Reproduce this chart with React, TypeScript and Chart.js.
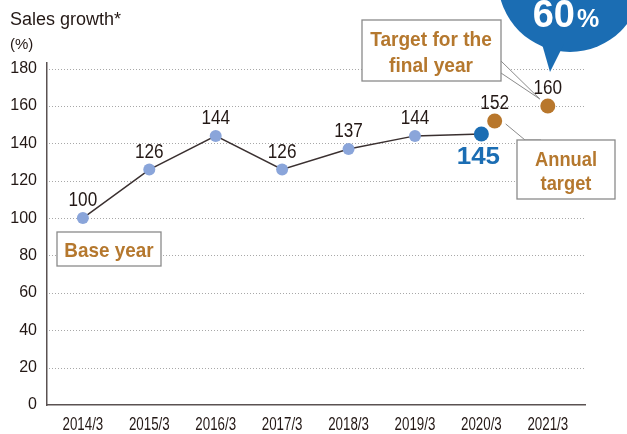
import React, { useEffect, useRef } from "react";
import { Chart, registerables } from "chart.js";

Chart.register(...registerables);

const categories = ["2014/3", "2015/3", "2016/3", "2017/3", "2018/3", "2019/3", "2020/3", "2021/3"];
const salesGrowth = [100, 126, 144, 126, 137, 144, 145];
const targetPositions = [6.2, 7];
const targetValues = [152, 160];
const yTicks = [0, 20, 40, 60, 80, 100, 120, 140, 160, 180];

const SANS = '"Liberation Sans", Arial, sans-serif';
const INK = "#231815";
const BROWN = "#b5782e";
const BLUE = "#1b6db3";
const LIGHT = "#8aa5da";
const BOX = "#8a8a8a";

function sText(
  ctx: CanvasRenderingContext2D,
  text: string,
  x: number,
  y: number,
  font: string,
  color: string,
  align: CanvasTextAlign,
  sx: number
) {
  ctx.save();
  ctx.translate(x, y);
  ctx.scale(sx, 1);
  ctx.font = font;
  ctx.fillStyle = color;
  ctx.textAlign = align;
  ctx.textBaseline = "alphabetic";
  ctx.fillText(text, 0, 0);
  ctx.restore();
}

function App() {
  const ref = useRef<HTMLCanvasElement | null>(null);

  useEffect(() => {
    if (!ref.current) return;

    const gridPlugin = {
      id: "dottedGrid",
      beforeDatasetsDraw(chart: any) {
        const { ctx, chartArea, scales } = chart;
        ctx.save();
        ctx.strokeStyle = "#a8a8a8";
        ctx.lineWidth = 1;
        ctx.setLineDash([1, 2]);
        for (const v of yTicks) {
          if (v === 0) continue;
          const y = Math.round(scales.y.getPixelForValue(v)) + 0.5;
          ctx.beginPath();
          ctx.moveTo(chartArea.left + 2, y);
          ctx.lineTo(chartArea.right, y);
          ctx.stroke();
        }
        ctx.restore();
      },
    };

    const box = (ctx: CanvasRenderingContext2D, x: number, y: number, w: number, h: number) => {
      ctx.fillStyle = "#fff";
      ctx.fillRect(x, y, w, h);
      ctx.strokeStyle = BOX;
      ctx.lineWidth = 1.3;
      ctx.strokeRect(x, y, w, h);
    };

    const wedge = (ctx: CanvasRenderingContext2D, pts: number[][]) => {
      ctx.beginPath();
      ctx.moveTo(pts[0][0], pts[0][1]);
      for (let i = 1; i < pts.length; i++) ctx.lineTo(pts[i][0], pts[i][1]);
      ctx.fillStyle = "#fff";
      ctx.fill();
      ctx.strokeStyle = BOX;
      ctx.lineWidth = 1;
      ctx.stroke();
    };

    const annotPlugin = {
      id: "annotations",
      afterDraw(chart: any) {
        const { ctx, scales } = chart;
        ctx.save();
        // title
        sText(ctx, "Sales growth*", 10, 25, `18px ${SANS}`, INK, "left", 1);
        sText(ctx, "(%)", 10, 49, `15px ${SANS}`, INK, "left", 1);

        // x tick labels
        categories.forEach((c, i) => {
          sText(ctx, c, scales.x.getPixelForValue(i), 430, `18px ${SANS}`, INK, "center", 0.74);
        });

        // data labels
        const m0 = chart.getDatasetMeta(0);
        const m1 = chart.getDatasetMeta(1);
        const lf = `19.5px ${SANS}`;
        m0.data.forEach((p: any, i: number) => {
          if (i === salesGrowth.length - 1) return;
          sText(ctx, String(salesGrowth[i]), p.x, p.y - 12, lf, INK, "center", 0.88);
        });
        m1.data.forEach((p: any, i: number) => {
          sText(ctx, String(targetValues[i]), p.x, p.y - 12, lf, INK, "center", 0.88);
        });
        // actual 2020/3 value
        const last = m0.data[salesGrowth.length - 1];
        sText(ctx, String(salesGrowth[salesGrowth.length - 1]), last.x - 3, last.y + 30, `bold 24.5px ${SANS}`, BLUE, "center", 1.06);

        const bf = `bold 21px ${SANS}`;
        // base year box
        box(ctx, 57, 232, 104, 34);
        sText(ctx, "Base year", 109, 257, bf, BROWN, "center", 0.9);

        // target for the final year
        const t = m1.data[1];
        wedge(ctx, [[501, 61], [t.x - 8, t.y - 7], [501, 73]]);
        box(ctx, 362, 20, 139, 61);
        sText(ctx, "Target for the", 431, 46, bf, BROWN, "center", 0.91);
        sText(ctx, "final year", 431, 72, bf, BROWN, "center", 0.91);

        // annual target
        const a = m1.data[0];
        wedge(ctx, [[a.x + 11, a.y + 3], [525, 140], [541, 140]]);
        box(ctx, 517, 140, 98, 59);
        sText(ctx, "Annual", 566, 166, bf, BROWN, "center", 0.87);
        sText(ctx, "target", 566, 190, bf, BROWN, "center", 0.87);

        // blue bubble
        ctx.fillStyle = BLUE;
        ctx.beginPath();
        ctx.arc(570, -20, 72, 0, Math.PI * 2);
        ctx.fill();
        ctx.beginPath();
        ctx.moveTo(542, 44);
        ctx.lineTo(564, 44);
        ctx.lineTo(550, 72);
        ctx.closePath();
        ctx.fill();
        sText(ctx, "60", 575, 27, `bold 38px ${SANS}`, "#fff", "right", 1);
        sText(ctx, "%", 577, 27, `bold 25px ${SANS}`, "#fff", "left", 1);
        ctx.restore();
      },
    };

    const chart = new Chart(ref.current, {
      type: "line",
      data: {
        datasets: [
          {
            data: salesGrowth.map((v, i) => ({ x: i, y: v })),
            borderColor: "#3a3030",
            borderWidth: 1.5,
            pointRadius: salesGrowth.map((_, i) => (i === salesGrowth.length - 1 ? 7.5 : 6)),
            pointBackgroundColor: salesGrowth.map((_, i) => (i === salesGrowth.length - 1 ? BLUE : LIGHT)),
            pointBorderWidth: 0,
            tension: 0,
          },
          {
            data: targetValues.map((v, i) => ({ x: targetPositions[i], y: v })),
            showLine: false,
            pointRadius: 7.5,
            pointBackgroundColor: "#b8772c",
            pointBorderWidth: 0,
          },
        ],
      },
      options: {
        responsive: false,
        animation: false,
        devicePixelRatio: 1,
        layout: { padding: { top: 63, right: 42, left: 0, bottom: 0 } },
        plugins: { legend: { display: false }, tooltip: { enabled: false } },
        scales: {
          x: {
            type: "linear",
            min: -0.54,
            max: 7.56,
            grid: { display: false, drawTicks: false },
            border: { display: true, color: "#5a5252", width: 1.5 },
            afterBuildTicks: (s: any) => {
              s.ticks = categories.map((_, i) => ({ value: i }));
            },
            afterFit: (s: any) => {
              s.height = 29;
            },
            ticks: { display: false },
          },
          y: {
            min: 0,
            max: 183,
            grid: { display: false, drawTicks: false },
            border: { display: true, color: "#5a5252", width: 1.5 },
            afterBuildTicks: (s: any) => {
              s.ticks = yTicks.map((v) => ({ value: v }));
            },
            afterFit: (s: any) => {
              s.width = 47;
            },
            ticks: {
              padding: 10,
              color: INK,
              font: { family: SANS, size: 16 },
            },
          },
        },
      },
      plugins: [gridPlugin, annotPlugin],
    } as any);
    return () => chart.destroy();
  }, []);

  return (
    <div style={{ position: "absolute", left: 0, top: 0, width: 627, height: 434, background: "#fff" }}>
      <canvas ref={ref} width={627} height={434} style={{ width: 627, height: 434, display: "block" }} />
    </div>
  );
}

export default App;
